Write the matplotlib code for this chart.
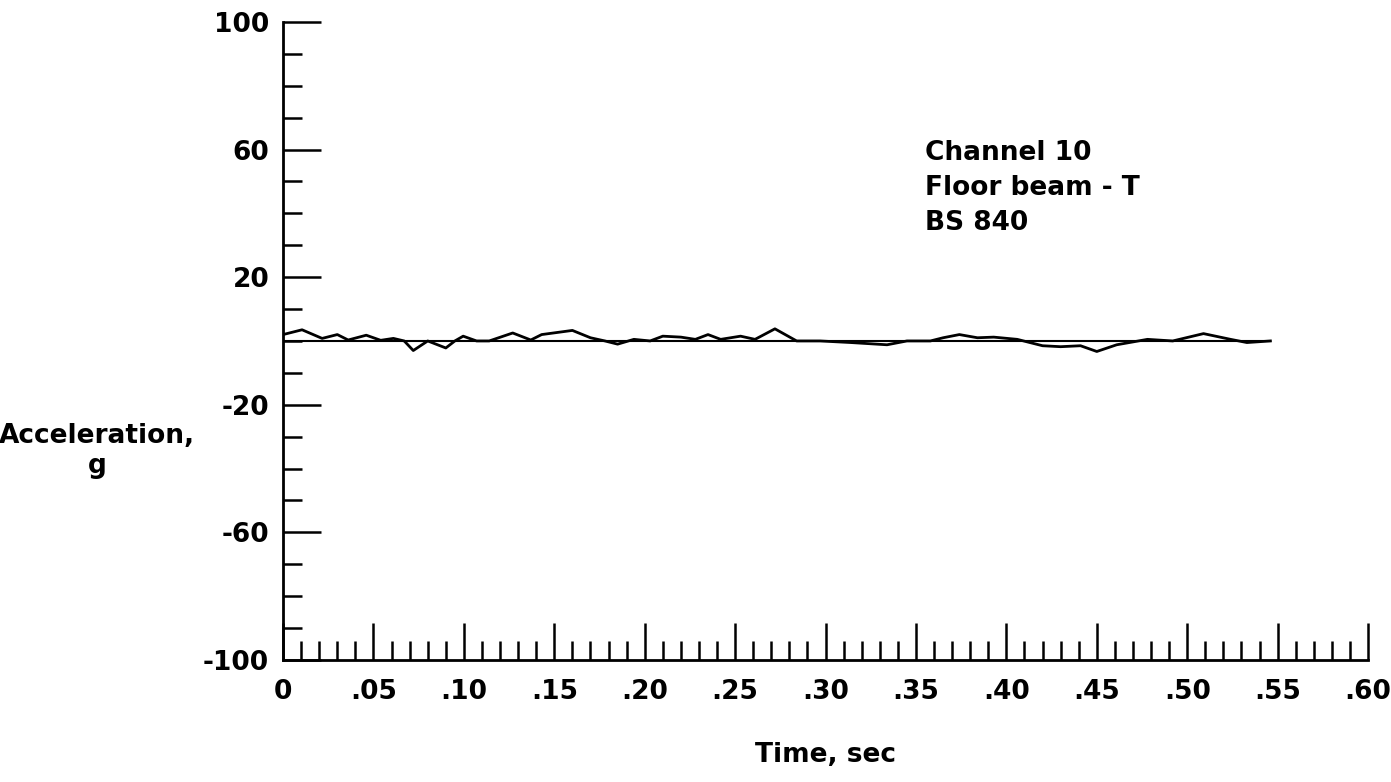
import matplotlib.pyplot as plt
from matplotlib.ticker import MultipleLocator, FixedLocator

plt.rcParams['font.family'] = ['DejaVu Sans']
plt.rcParams['font.weight'] = 'bold'
plt.rcParams['axes.unicode_minus'] = False

# Acceleration trace (time in sec, acceleration in g)
time = [0.000, 0.0105, 0.0216, 0.030, 0.036, 0.046, 0.054, 0.061, 0.067,
        0.072, 0.080, 0.090, 0.095, 0.0996, 0.107, 0.114, 0.127, 0.137,
        0.143, 0.160, 0.170, 0.178, 0.185, 0.194, 0.203, 0.210, 0.220,
        0.228, 0.235, 0.242, 0.253, 0.261, 0.272, 0.284, 0.297, 0.314,
        0.334, 0.345, 0.358, 0.365, 0.374, 0.384, 0.393, 0.406, 0.420,
        0.430, 0.441, 0.450, 0.461, 0.478, 0.492, 0.509, 0.524, 0.533,
        0.546]
accel = [2.0, 3.5, 0.8, 2.0, 0.3, 1.8, 0.2, 0.8, 0.0,
         -3.0, 0.0, -2.2, 0.0, 1.5, 0.0, 0.0, 2.5, 0.3,
         2.0, 3.3, 1.0, 0.0, -1.0, 0.5, 0.0, 1.5, 1.2,
         0.5, 2.0, 0.5, 1.5, 0.5, 3.8, 0.0, 0.0, -0.5,
         -1.2, 0.0, 0.0, 1.0, 2.0, 1.0, 1.2, 0.5, -1.5,
         -1.8, -1.5, -3.3, -1.2, 0.5, 0.0, 2.3, 0.5, -0.5,
         0.0]

baseline_t = [0.0, 0.546]
baseline_g = [0.0, 0.0]

x_ticks = [0, 0.05, 0.10, 0.15, 0.20, 0.25, 0.30, 0.35, 0.40, 0.45, 0.50, 0.55, 0.60]
x_labels = ['0', '.05', '.10', '.15', '.20', '.25', '.30', '.35', '.40', '.45', '.50', '.55', '.60']
y_ticks = [-100, -60, -20, 20, 60, 100]

fig = plt.figure(figsize=(13.91, 7.82), dpi=100)
ax = fig.add_axes([0.2035, 0.156, 0.78, 0.816])

ax.plot(baseline_t, baseline_g, color='black', linewidth=1.5)
ax.plot(time, accel, color='black', linewidth=2.0)

ax.set_xlim(0, 0.60)
ax.set_ylim(-100, 100)

ax.spines['top'].set_visible(False)
ax.spines['right'].set_visible(False)
ax.spines['left'].set_linewidth(2)
ax.spines['bottom'].set_linewidth(2)

ax.xaxis.set_major_locator(FixedLocator(x_ticks))
ax.xaxis.set_minor_locator(MultipleLocator(0.01))
ax.set_xticklabels(x_labels)
ax.yaxis.set_major_locator(FixedLocator(y_ticks))
ax.yaxis.set_minor_locator(MultipleLocator(10))

ax.tick_params(which='both', direction='in', width=1.8, colors='black',
               labelsize=19)
ax.tick_params(which='major', length=27)
ax.tick_params(which='minor', length=14)
ax.tick_params(axis='x', pad=14)
ax.tick_params(axis='y', pad=10)

ax.set_xlabel('Time, sec', fontsize=19, fontweight='bold', labelpad=26)
fig.text(0.07, 0.423, 'Acceleration,\ng', fontsize=19, fontweight='bold',
         ha='center', va='center', linespacing=1.2)

ax.text(0.355, 48, 'Channel 10\nFloor beam - T\nBS 840', fontsize=19,
        fontweight='bold', ha='left', va='center', linespacing=1.45)

fig.savefig('out.png', dpi=100)
